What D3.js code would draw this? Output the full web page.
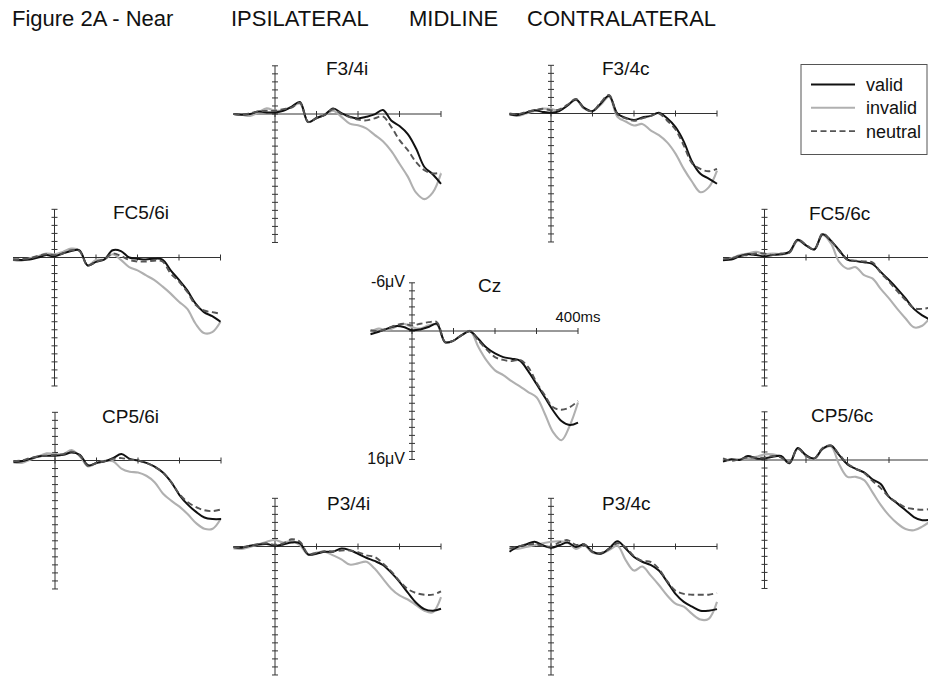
<!DOCTYPE html>
<html>
<head>
<meta charset="utf-8">
<script src="https://cdn.jsdelivr.net/npm/d3@7"></script>
<style>
  html, body { margin: 0; padding: 0; background: #fff; }
  svg { display: block; font-family: Arial, "Liberation Sans", Helvetica, sans-serif; }
</style>
</head>
<body>
<svg id="chart" width="928" height="676"></svg>
<script>
// ---------------- DATA ----------------
const titleTexts = ["Figure 2A - Near", "IPSILATERAL", "MIDLINE", "CONTRALATERAL"];
const panelNames = ["F3/4i", "F3/4c", "FC5/6i", "Cz", "FC5/6c", "CP5/6i", "CP5/6c", "P3/4i", "P3/4c"];
const conditions = ["valid", "invalid", "neutral"];
const timesMs = [-100, -80, -60, -40, -20, 0, 20, 40, 60, 80, 100, 120, 140, 160, 180, 200, 220, 240, 260, 280, 300, 320, 340, 360, 380, 400];
const xTickValues = [0, 100, 200, 300, 400];
const yTickValues = [-6, -5, -4, -3, -2, -1, 0, 1, 2, 3, 4, 5, 6, 7, 8, 9, 10, 11, 12, 13, 14, 15, 16];
const czAxisLabels = ["-6\u03bcV", "16\u03bcV", "400ms"];

// amplitudes in microvolts (negative up)
const validF34i   = [0, 0.1, 0, -0.3, -0.2, -0.2, -0.4, -0.9, -1.5, 1.0, 0.5, 0.1, -0.7, -0.1, 0.35, 0.55, 0.35, 0.05, -0.5, 0.8, 1.5, 2.5, 4.3, 6.6, 7.5, 8.7];
const invalidF34i = [0, 0.1, 0.25, -0.2, -0.7, -0.4, -0.5, -0.9, -1.3, 1.0, 0.5, 0.1, -0.4, 0.35, 1.2, 1.4, 1.8, 2.6, 3.4, 4.6, 6.2, 7.8, 9.8, 10.6, 9.8, 7.4];
const neutralF34i = [0, 0.1, -0.1, -0.3, -0.4, -0.4, -0.6, -0.8, -1.4, 1.0, 0.5, 0.1, -0.6, 0, 0.4, 0.7, 0.8, 0.55, 0.3, 1.6, 3.25, 4.5, 6.0, 7.0, 7.4, 7.3];

const validF34c   = [0.1, 0.2, -0.1, -0.4, -0.2, -0.1, -0.3, -1.0, -1.75, -0.7, -0.3, -1.25, -2.2, 0, 0.55, 0.8, 0.5, 0.3, -0.1, 0.6, 1.7, 3.5, 6.0, 7.5, 8.1, 8.75];
const invalidF34c = [0.1, 0.3, 0, -0.3, -0.6, -0.55, -0.4, -1.0, -1.7, -0.6, -0.3, -1.1, -2.1, 0.4, 1.0, 1.5, 1.3, 2.1, 2.7, 3.6, 5.0, 6.9, 8.5, 9.8, 9.2, 7.1];
const neutralF34c = [0, 0.1, -0.2, -0.4, -0.6, -0.4, -0.5, -1.1, -1.8, -0.6, -0.3, -1.4, -2.3, 0.1, 0.6, 0.9, 0.6, 0.3, 0, 0.9, 2.0, 4.0, 6.2, 6.9, 7.2, 6.9];

const validFC56i   = [0.25, 0.3, 0.25, 0, -0.3, -0.15, -0.5, -0.8, -0.9, 1.0, 0.55, 0.25, -0.9, -0.8, 0, 0.15, 0.25, 0.15, 0.25, 1.6, 2.8, 4.1, 5.75, 6.8, 7.3, 8.0];
const invalidFC56i = [0.3, 0.4, 0.1, -0.15, -0.5, -0.4, -0.7, -1.1, -0.9, 1.0, 0.3, 0.25, -0.4, 0.3, 1.2, 1.6, 2.2, 2.8, 3.6, 4.5, 5.5, 6.4, 8.25, 9.4, 9.3, 8.0];
const neutralFC56i = [0.25, 0.2, 0.1, -0.2, -0.4, -0.3, -0.5, -0.9, -0.8, 1.0, 0.5, 0.2, -0.5, -0.2, 0.3, 0.5, 0.5, 0.4, 0.5, 2.0, 3.0, 4.3, 5.9, 6.6, 6.8, 7.0];

const validCz   = [0.4, 0.1, -0.3, -0.6, -0.5, -0.1, -0.2, -0.5, -0.9, 1.4, 1.2, 0.5, 0.05, 1.0, 2.1, 2.8, 3.25, 3.45, 3.7, 5.0, 6.6, 8.25, 9.9, 11.2, 11.7, 11.4];
const invalidCz = [0.1, -0.3, -0.1, -0.5, -0.9, -0.5, -0.3, -0.7, -0.8, 1.4, 1.2, 0.5, 0, 2.0, 3.7, 4.9, 5.5, 6.25, 6.9, 7.6, 8.25, 10.3, 12.6, 13.6, 11.8, 8.9];
const neutralCz = [-0.1, 0, -0.3, -0.7, -0.9, -0.7, -0.9, -1.1, -1.1, 1.4, 1.2, 0.5, 0, 1.2, 2.3, 3.25, 3.6, 3.75, 3.6, 4.5, 6.4, 8.0, 9.5, 9.8, 9.5, 8.7];

const validFC56c   = [0.3, 0.25, -0.15, -0.4, -0.3, -0.15, -0.3, -0.4, -0.7, -2.2, -1.5, -1.0, -2.9, -2.1, -0.9, 0.25, 0.45, 0.6, 0.8, 1.8, 2.8, 3.9, 5.1, 6.4, 7.2, 7.75];
const invalidFC56c = [0.4, 0.1, -0.3, -0.5, -0.7, -0.4, -0.5, -0.4, -0.6, -2.1, -1.5, -1.0, -2.8, -1.75, 0.55, 1.4, 1.2, 2.2, 2.6, 3.9, 5.1, 6.4, 7.6, 8.7, 8.5, 7.4];
const neutralFC56c = [0.2, 0.1, -0.2, -0.3, -0.5, -0.5, -0.3, -0.5, -0.6, -2.2, -1.6, -1.0, -3.0, -2.1, -0.8, 0.3, 0.4, 0.5, 0.6, 1.9, 3.0, 4.2, 5.3, 6.3, 6.4, 6.2];

const validCP56i   = [0.2, 0.1, -0.2, -0.5, -0.6, -0.6, -0.7, -1.0, -0.7, 0.6, 0.3, 0.1, -0.3, -0.8, -0.2, 0, 0.3, 0.75, 1.5, 2.7, 4.3, 5.5, 6.4, 7.1, 7.3, 7.3];
const invalidCP56i = [0.25, 0.3, -0.1, -0.5, -0.9, -0.8, -0.8, -1.3, -0.5, 0.75, 0.3, 0.05, 0.1, 1.0, 1.4, 1.5, 1.9, 2.7, 4.1, 5.0, 5.75, 6.7, 7.8, 8.5, 8.5, 7.2];
const neutralCP56i = [0.1, 0, -0.3, -0.5, -0.6, -0.7, -0.8, -1.1, -0.6, 0.7, 0.3, 0.1, -0.2, -0.3, -0.1, 0, 0.3, 0.8, 1.5, 2.7, 4.2, 5.2, 5.8, 6.2, 6.3, 6.1];

const validCP56c   = [0.2, -0.1, 0, -0.5, -0.2, -0.2, -0.4, -0.5, 0.4, -1.5, -0.6, -0.2, -1.4, -1.8, -0.6, 0.55, 1.1, 1.55, 2.4, 3.0, 4.6, 5.4, 6.25, 7.1, 7.5, 7.4];
const invalidCP56c = [0.1, 0, -0.1, -0.2, -0.4, -0.7, -0.7, -0.4, 0.4, -1.4, -0.55, -0.1, -1.35, -1.7, 0.55, 2.1, 2.1, 2.5, 4.0, 5.6, 6.9, 7.9, 8.6, 8.75, 8.3, 7.6];
const neutralCP56c = [-0.2, 0.1, -0.1, -0.3, -0.3, -0.3, -0.5, -0.3, 0.3, -1.4, -0.5, -0.2, -1.5, -1.8, -0.7, 0.45, 1.1, 1.6, 2.6, 3.5, 4.6, 5.3, 5.9, 6.1, 6.2, 6.1];

const validP34i   = [0.05, 0.15, -0.1, -0.25, -0.3, -0.1, -0.25, -0.5, -0.4, 1.0, 0.9, 0.65, 0.65, 0.25, 0.45, 0.9, 1.4, 1.8, 2.3, 3.25, 4.4, 5.75, 7.0, 7.8, 8.0, 7.75];
const invalidP34i = [0.25, 0.3, 0.05, -0.25, -0.6, -0.8, -0.5, -0.7, -0.15, 1.0, 0.75, 0.65, 1.1, 1.6, 2.25, 2.1, 1.9, 2.75, 4.0, 5.25, 6.1, 6.6, 7.3, 8.0, 8.2, 6.3];
const neutralP34i = [0.1, 0.1, -0.1, -0.3, -0.4, -0.2, -0.4, -0.9, -0.6, 0.9, 0.8, 0.6, 0.6, 0.5, 0.5, 0.7, 1.1, 1.3, 2.1, 3.1, 4.3, 5.3, 5.8, 6.0, 6.0, 5.6];

const validP34c   = [0.65, 0.05, -0.25, -0.6, -0.15, 0.15, -0.15, -0.5, 0.05, -0.25, 0.65, 0.9, 0.25, -0.65, 0.25, 1.3, 1.9, 2.3, 3.0, 4.4, 5.9, 6.9, 7.5, 8.0, 8.0, 7.8];
const invalidP34c = [0.15, 0.3, 0.05, -0.15, -0.4, -0.6, -0.65, -0.5, 0.3, -0.15, 0.75, 0.9, 0.45, -0.1, 1.7, 3.0, 2.5, 3.6, 4.8, 6.1, 7.1, 7.5, 8.4, 9.1, 9.0, 6.9];
const neutralP34c = [0.3, 0, -0.2, -0.3, -0.1, 0, -0.5, -0.8, -0.2, -0.3, 0.7, 0.8, 0.3, -0.4, 0.1, 1.2, 1.8, 1.9, 2.8, 4.3, 5.5, 5.9, 6.0, 6.0, 6.0, 5.8];

// ---------------- LAYOUT / STYLE ----------------
const W = 928, H = 676;
// origin (x of 0 ms, y of 0 uV) and label anchor for each panel
const panelLayout = [
  { ox: 275,   oy: 114,   lx: 326, ly: 75 },
  { ox: 551,   oy: 113.5, lx: 602, ly: 75 },
  { ox: 54.5,  oy: 257.5, lx: 113, ly: 219 },
  { ox: 412,   oy: 331,   lx: 478, ly: 292 },
  { ox: 764.5, oy: 257.5, lx: 809, ly: 220 },
  { ox: 55,    oy: 460.5, lx: 102, ly: 423 },
  { ox: 764.5, oy: 460,   lx: 811, ly: 422 },
  { ox: 275,   oy: 546.5, lx: 327, ly: 510 },
  { ox: 551,   oy: 546.5, lx: 602, ly: 510 }
];
const pxPerMs = 0.415;
const pxPerUv = 8.03;
const condStyle = {
  invalid: { stroke: "#b0b0b0", width: 2.1, dash: null },
  valid:   { stroke: "#111111", width: 2.0, dash: null },
  neutral: { stroke: "#555555", width: 1.9, dash: "6,3.5" }
};
const drawOrder = ["invalid", "valid", "neutral"];

const seriesByPanel = {
  "F3/4i":  { valid: validF34i,  invalid: invalidF34i,  neutral: neutralF34i },
  "F3/4c":  { valid: validF34c,  invalid: invalidF34c,  neutral: neutralF34c },
  "FC5/6i": { valid: validFC56i, invalid: invalidFC56i, neutral: neutralFC56i },
  "Cz":     { valid: validCz,    invalid: invalidCz,    neutral: neutralCz },
  "FC5/6c": { valid: validFC56c, invalid: invalidFC56c, neutral: neutralFC56c },
  "CP5/6i": { valid: validCP56i, invalid: invalidCP56i, neutral: neutralCP56i },
  "CP5/6c": { valid: validCP56c, invalid: invalidCP56c, neutral: neutralCP56c },
  "P3/4i":  { valid: validP34i,  invalid: invalidP34i,  neutral: neutralP34i },
  "P3/4c":  { valid: validP34c,  invalid: invalidP34c,  neutral: neutralP34c }
};

const svg = d3.select("#chart");
svg.append("rect").attr("width", W).attr("height", H).attr("fill", "#fff");

// Title row
const titleX = [12, 231, 409, 527];
svg.selectAll("text.title").data(titleTexts).join("text")
  .attr("class", "title")
  .attr("x", (d, i) => titleX[i]).attr("y", 26)
  .attr("font-size", 22).attr("fill", "#111")
  .text(d => d);

const axisColor = "#333";

panelNames.forEach((name, pi) => {
  const L = panelLayout[pi];
  const x = d3.scaleLinear().domain([0, 400]).range([L.ox, L.ox + 400 * pxPerMs]);
  const y = d3.scaleLinear().domain([0, 16]).range([L.oy, L.oy + 16 * pxPerUv]);
  const g = svg.append("g").attr("class", "panel");

  // y axis line + ticks (both sides)
  g.append("line").attr("x1", L.ox).attr("x2", L.ox)
    .attr("y1", y(yTickValues[0])).attr("y2", y(yTickValues[yTickValues.length - 1]))
    .attr("stroke", axisColor).attr("stroke-width", 1);
  g.selectAll("line.yt").data(yTickValues).join("line").attr("class", "yt")
    .attr("x1", L.ox - 3).attr("x2", L.ox + 3)
    .attr("y1", d => y(d)).attr("y2", d => y(d))
    .attr("stroke", axisColor).attr("stroke-width", 1);

  // x axis line + ticks
  g.append("line").attr("x1", x(timesMs[0])).attr("x2", x(timesMs[timesMs.length - 1]))
    .attr("y1", y(0)).attr("y2", y(0))
    .attr("stroke", axisColor).attr("stroke-width", 1);
  g.selectAll("line.xt").data(xTickValues).join("line").attr("class", "xt")
    .attr("x1", d => x(d)).attr("x2", d => x(d))
    .attr("y1", y(0) - 3).attr("y2", y(0) + 3)
    .attr("stroke", axisColor).attr("stroke-width", 1);

  // waveforms
  const line = d3.line()
    .x((d, i) => x(timesMs[i]))
    .y(d => y(d))
    .curve(d3.curveCatmullRom.alpha(0.5));
  drawOrder.forEach(c => {
    const st = condStyle[c];
    g.append("path").datum(seriesByPanel[name][c])
      .attr("d", line).attr("fill", "none")
      .attr("stroke", st.stroke).attr("stroke-width", st.width)
      .attr("stroke-linejoin", "round")
      .attr("stroke-dasharray", st.dash);
  });

  // panel label
  g.append("text").attr("x", L.lx).attr("y", L.ly)
    .attr("font-size", 19).attr("fill", "#111").text(name);

  if (name === "Cz") {
    g.append("text").attr("x", L.ox - 7).attr("y", y(-6) + 4)
      .attr("text-anchor", "end").attr("font-size", 16).attr("fill", "#111").text(czAxisLabels[0]);
    g.append("text").attr("x", L.ox - 7).attr("y", y(16) + 5)
      .attr("text-anchor", "end").attr("font-size", 16).attr("fill", "#111").text(czAxisLabels[1]);
    g.append("text").attr("x", x(400)).attr("y", y(0) - 9)
      .attr("text-anchor", "middle").attr("font-size", 15).attr("fill", "#111").text(czAxisLabels[2]);
  }
});

// Legend
const leg = svg.append("g").attr("class", "legend");
leg.append("rect").attr("x", 801).attr("y", 64.5).attr("width", 126).attr("height", 90)
  .attr("fill", "#fff").attr("stroke", "#555").attr("stroke-width", 1);
conditions.forEach((c, i) => {
  const st = condStyle[c];
  const ly = 84.5 + i * 23.3;
  leg.append("line").attr("x1", 811).attr("x2", 855).attr("y1", ly).attr("y2", ly)
    .attr("stroke", st.stroke).attr("stroke-width", st.width).attr("stroke-dasharray", st.dash);
  leg.append("text").attr("x", 866).attr("y", ly + 6.5)
    .attr("font-size", 18).attr("fill", "#111").text(c);
});
</script>
</body>
</html>
